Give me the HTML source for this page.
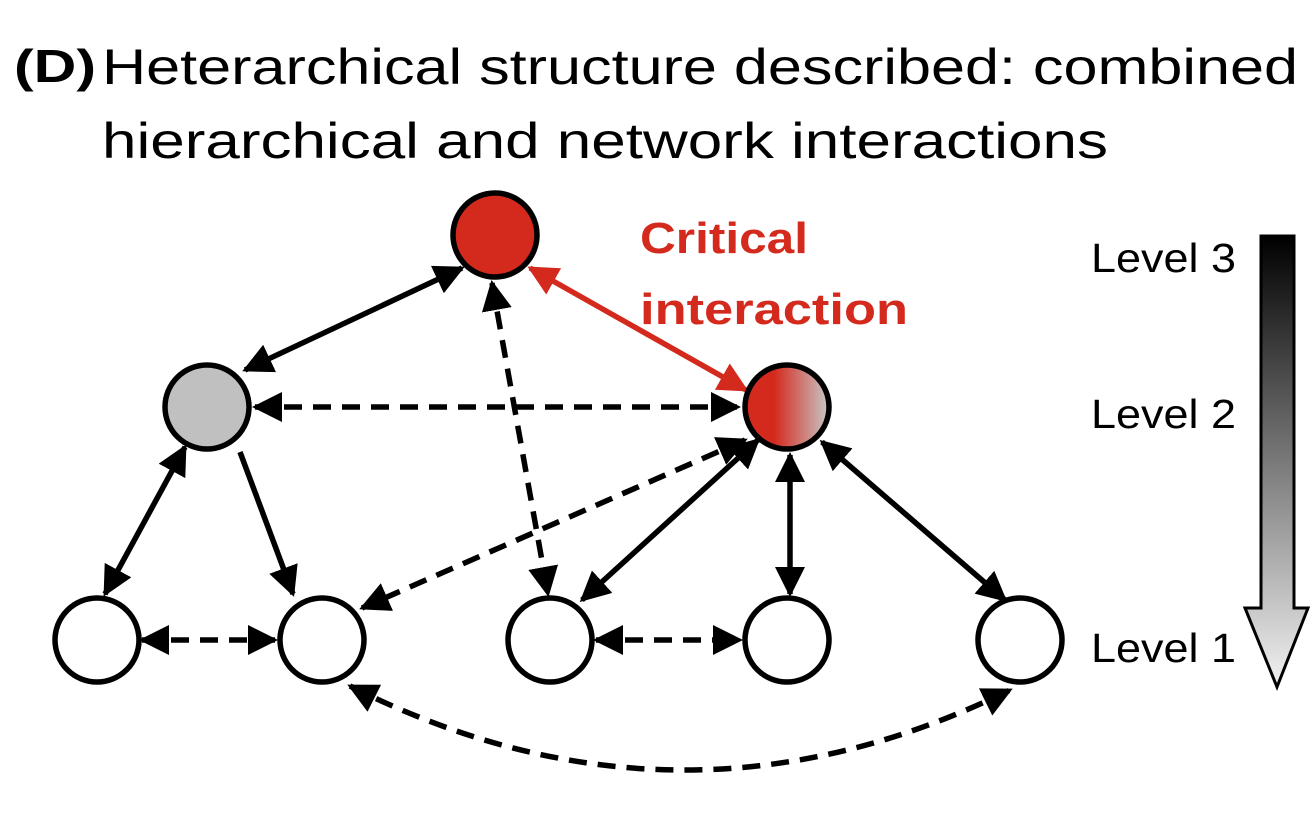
<!DOCTYPE html>
<html><head><meta charset="utf-8"><style>body{margin:0;background:#fff}svg{display:block}</style></head>
<body>
<svg width="1310" height="824" viewBox="0 0 1310 824" xmlns="http://www.w3.org/2000/svg" font-family="Liberation Sans, sans-serif">
<defs>
<marker id="a" viewBox="0 0 10 10" refX="9" refY="5" markerWidth="5.5" markerHeight="5.5" orient="auto-start-reverse" markerUnits="strokeWidth"><path d="M0,0 L10,5 L0,10 z" fill="#000"/></marker>
<marker id="r" viewBox="0 0 10 10" refX="9" refY="5" markerWidth="5.5" markerHeight="5.5" orient="auto-start-reverse" markerUnits="strokeWidth"><path d="M0,0 L10,5 L0,10 z" fill="#d42a1e"/></marker>
<linearGradient id="rg" x1="0" x2="1" y1="0" y2="0"><stop offset="0.35" stop-color="#d42a1e"/><stop offset="1" stop-color="#c8c8c8"/></linearGradient>
<linearGradient id="bar" x1="0" x2="0" y1="0" y2="1"><stop offset="0" stop-color="#000"/><stop offset="1" stop-color="#f2f2f2"/></linearGradient>
</defs>
<text x="14" y="82" font-size="46" font-weight="bold" textLength="82" lengthAdjust="spacingAndGlyphs">(D)</text>
<text x="102" y="84" font-size="50" textLength="1196" lengthAdjust="spacingAndGlyphs">Heterarchical structure described: combined</text>
<text x="102" y="158" font-size="50" textLength="1006" lengthAdjust="spacingAndGlyphs">hierarchical and network interactions</text>
<text x="640" y="253" font-size="44" font-weight="bold" fill="#d42a1e" textLength="168" lengthAdjust="spacingAndGlyphs">Critical</text>
<text x="640" y="324" font-size="44" font-weight="bold" fill="#d42a1e" textLength="268" lengthAdjust="spacingAndGlyphs">interaction</text>
<g stroke="#000" stroke-width="5.5" fill="none">
<line x1="245" y1="370" x2="462" y2="268" marker-start="url(#a)" marker-end="url(#a)"/>
<line x1="255" y1="407" x2="738" y2="407" stroke-dasharray="18,11" marker-start="url(#a)" marker-end="url(#a)"/>
<line x1="492" y1="283" x2="548" y2="594" stroke-dasharray="18,11" marker-start="url(#a)" marker-end="url(#a)"/>
<line x1="185" y1="447" x2="105" y2="594" marker-start="url(#a)" marker-end="url(#a)"/>
<line x1="240" y1="452" x2="293" y2="594" marker-end="url(#a)"/>
<line x1="745" y1="440" x2="362" y2="608" stroke-dasharray="18,11" marker-start="url(#a)" marker-end="url(#a)"/>
<line x1="758" y1="440" x2="582" y2="600" marker-start="url(#a)" marker-end="url(#a)"/>
<line x1="790" y1="455" x2="790" y2="594" marker-start="url(#a)" marker-end="url(#a)"/>
<line x1="822" y1="442" x2="1005" y2="600" marker-start="url(#a)" marker-end="url(#a)"/>
<line x1="142" y1="640" x2="275" y2="640" stroke-dasharray="18,11" marker-start="url(#a)" marker-end="url(#a)"/>
<line x1="596" y1="640" x2="740" y2="640" stroke-dasharray="18,11" marker-start="url(#a)" marker-end="url(#a)"/>
<path d="M350,686 Q680,852 1010,690" stroke-dasharray="18,11" marker-start="url(#a)" marker-end="url(#a)"/>
</g>
<line x1="530" y1="268" x2="746" y2="390" stroke="#d42a1e" stroke-width="5.5" marker-start="url(#r)" marker-end="url(#r)"/>
<g stroke="#000" stroke-width="5.5">
<circle cx="495" cy="235" r="42" fill="#d42a1e"/>
<circle cx="207" cy="407" r="42" fill="#c0c0c0"/>
<circle cx="787" cy="407" r="42" fill="url(#rg)"/>
<circle cx="97" cy="640" r="42" fill="#fff"/>
<circle cx="322" cy="640" r="42" fill="#fff"/>
<circle cx="550" cy="640" r="42" fill="#fff"/>
<circle cx="787" cy="640" r="42" fill="#fff"/>
<circle cx="1020" cy="640" r="42" fill="#fff"/>
</g>
<path d="M1261,236 L1294,236 L1294,608 L1308,608 L1277,687 L1245,608 L1261,608 Z" fill="url(#bar)" stroke="#000" stroke-width="3"/>
<g font-size="41">
<text x="1091" y="272" textLength="145" lengthAdjust="spacingAndGlyphs">Level 3</text>
<text x="1091" y="428" textLength="145" lengthAdjust="spacingAndGlyphs">Level 2</text>
<text x="1091" y="662" textLength="145" lengthAdjust="spacingAndGlyphs">Level 1</text>
</g>
</svg>
</body></html>
